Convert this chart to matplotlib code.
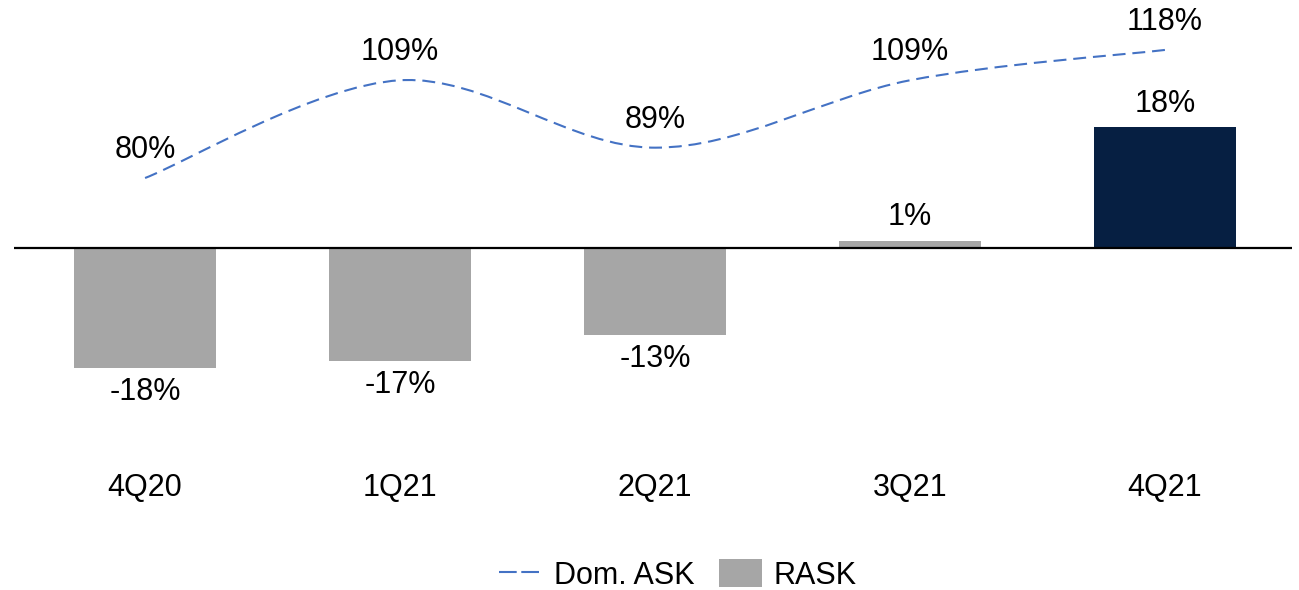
import matplotlib
matplotlib.use("Agg")
import matplotlib.pyplot as plt
import matplotlib.transforms as mtransforms
from matplotlib.path import Path
from matplotlib.patches import PathPatch, Patch
from matplotlib.lines import Line2D

# Data
quarters = ["4Q20", "1Q21", "2Q21", "3Q21", "4Q21"]
rask = [-18, -17, -13, 1, 18]
dom_ask = [80, 109, 89, 109, 118]
rask_labels = ["-18%", "-17%", "-13%", "1%", "18%"]
ask_labels = ["80%", "109%", "89%", "109%", "118%"]

GRAY = "#A6A6A6"
NAVY = "#061F42"
BLUE = "#4472C4"
bar_colors = [GRAY, GRAY, GRAY, GRAY, NAVY]

plt.rcParams["font.family"] = ["Liberation Sans", "DejaVu Sans"]
FS = 22

fig = plt.figure(figsize=(12.99, 5.90), dpi=100)
ax = fig.add_axes([14 / 1299, 1 - 440 / 590, 1278 / 1299, 430 / 590])
ax2 = ax.twinx()

x = list(range(len(quarters)))

# Bars (RASK) on the primary axis
ax.bar(x, rask, width=0.557, color=bar_colors, zorder=2)
ax.axhline(0, color="black", lw=1.6, zorder=3)
ax.set_xlim(-0.514, 4.498)
ax.set_ylim(-28.73, 35.45)

for xi, v, lab in zip(x, rask, rask_labels):
    off = 16.8 if v >= 0 else -17.3
    ax.annotate(lab, (xi, v), xytext=(0, off), textcoords="offset points",
                ha="center", va="center", fontsize=FS, color="black")

# Smoothed dashed line (Dom. ASK) on the secondary axis, cubic Bezier segments
pts = list(zip(x, dom_ask))
verts = [pts[0]]
codes = [Path.MOVETO]
n = len(pts)
for i in range(n - 1):
    p_prev = pts[i - 1] if i > 0 else pts[i]
    p0 = pts[i]
    p1 = pts[i + 1]
    p_next = pts[i + 2] if i + 2 < n else pts[i + 1]
    c1 = (p0[0] + (p1[0] - p_prev[0]) / 6, p0[1] + (p1[1] - p_prev[1]) / 6)
    c2 = (p1[0] - (p_next[0] - p0[0]) / 6, p1[1] - (p_next[1] - p0[1]) / 6)
    verts += [c1, c2, p1]
    codes += [Path.CURVE4] * 3
curve = PathPatch(Path(verts, codes), facecolor="none", edgecolor=BLUE,
                  lw=1.5, linestyle=(0, (6.2, 3.3)), zorder=4)
ax2.add_patch(curve)
ax2.set_ylim(2.26, 129.85)
ax2.set_xlim(-0.514, 4.498)

for xi, v, lab in zip(x, dom_ask, ask_labels):
    ax2.annotate(lab, (xi, v), xytext=(0, 20), textcoords="offset points",
                 ha="center", va="center", fontsize=FS, color="black")

# Category labels
trans = mtransforms.blended_transform_factory(ax.transData, fig.transFigure)
for xi, q in zip(x, quarters):
    ax.text(xi, 1 - 488 / 590, q, transform=trans, ha="center", va="center",
            fontsize=FS, color="black")

for a in (ax, ax2):
    for s in a.spines.values():
        s.set_visible(False)
    a.set_xticks([])
    a.set_yticks([])

handles = [
    Line2D([0], [0], color=BLUE, lw=1.5, linestyle=(0, (8.5, 2.2))),
    Patch(facecolor=GRAY, edgecolor="none"),
]
fig.legend(handles, ["Dom. ASK", "RASK"], loc="center",
           bbox_to_anchor=(678 / 1299, 1 - 575 / 590), ncol=2, frameon=False,
           fontsize=FS, handlelength=1.4, handleheight=1.0, handletextpad=0.4,
           columnspacing=0.8)

fig.savefig("out.png", dpi=100)
